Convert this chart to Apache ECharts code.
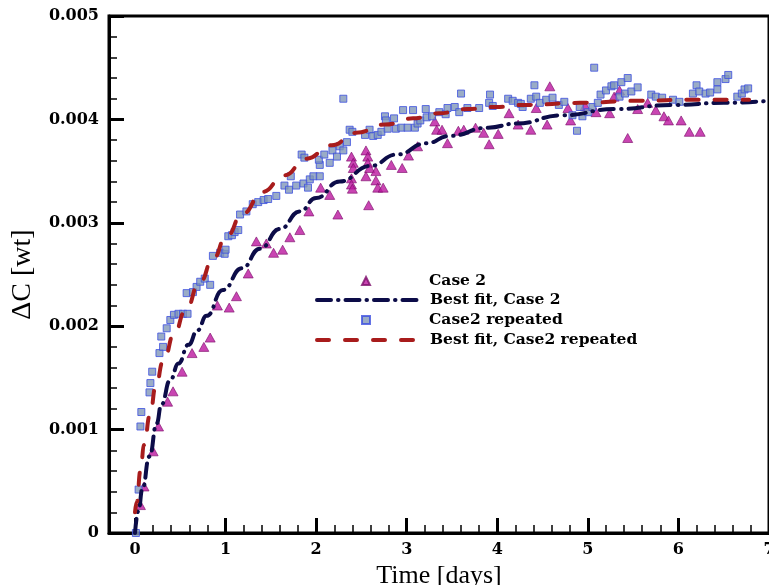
<!DOCTYPE html>
<html>
<head>
<meta charset="utf-8">
<title>Delta C vs time</title>
<script src="https://cdn.jsdelivr.net/npm/echarts@6/dist/echarts.min.js"></script>
<style>
  html, body { margin: 0; padding: 0; background: #fff; }
  #main { width: 769px; height: 585px; }
</style>
</head>
<body>
<div id="main"></div>
<script>
// values: [time (days), delta C (wt)]
const case2Points = [
  [0.06, 0.00027], [0.10, 0.00045], [0.20, 0.00079], [0.26, 0.00103], [0.36, 0.00127],
  [0.42, 0.00137], [0.52, 0.00156], [0.63, 0.00174], [0.76, 0.00180], [0.83, 0.00189],
  [0.91, 0.00220], [1.04, 0.00218], [1.12, 0.00229], [1.25, 0.00251], [1.34, 0.00282],
  [1.45, 0.00280], [1.53, 0.00271], [1.63, 0.00274], [1.71, 0.00286], [1.82, 0.00293],
  [1.92, 0.00311], [2.05, 0.00334], [2.15, 0.00327], [2.24, 0.00308], [2.39, 0.00364],
  [2.41, 0.00358], [2.41, 0.00353], [2.39, 0.00343], [2.39, 0.00337], [2.40, 0.00333],
  [2.55, 0.00370], [2.57, 0.00364], [2.57, 0.00358], [2.59, 0.00353], [2.55, 0.00345],
  [2.66, 0.00350], [2.66, 0.00341], [2.68, 0.00334], [2.74, 0.00334], [2.58, 0.00317],
  [2.83, 0.00356], [2.95, 0.00353], [3.02, 0.00365], [3.12, 0.00374], [3.31, 0.00398],
  [3.33, 0.00390], [3.39, 0.00390], [3.45, 0.00377], [3.57, 0.00389], [3.63, 0.00390],
  [3.76, 0.00392], [3.85, 0.00387], [3.91, 0.00376], [4.01, 0.00386], [4.13, 0.00406],
  [4.23, 0.00395], [4.37, 0.00390], [4.43, 0.00411], [4.55, 0.00395], [4.58, 0.00432],
  [4.78, 0.00411], [4.81, 0.00399], [4.97, 0.00413], [5.09, 0.00407], [5.24, 0.00406],
  [5.29, 0.00422], [5.35, 0.00428], [5.44, 0.00382], [5.55, 0.00410], [5.66, 0.00416],
  [5.75, 0.00409], [5.84, 0.00403], [5.89, 0.00399], [6.03, 0.00399], [6.12, 0.00388],
  [6.24, 0.00388]
]

const case2RepeatedPoints = [
  [0.01, 0.00000], [0.04, 0.00042], [0.06, 0.00103], [0.07, 0.00117], [0.16, 0.00136],
  [0.17, 0.00145], [0.19, 0.00156], [0.27, 0.00174], [0.31, 0.00180], [0.29, 0.00190],
  [0.35, 0.00198], [0.39, 0.00206], [0.43, 0.00211], [0.48, 0.00212], [0.53, 0.00212],
  [0.58, 0.00212], [0.57, 0.00232], [0.64, 0.00233], [0.68, 0.00238], [0.72, 0.00243],
  [0.77, 0.00246], [0.83, 0.00240], [0.86, 0.00268], [0.94, 0.00271], [0.99, 0.00270],
  [1.00, 0.00274], [1.03, 0.00287], [1.07, 0.00288], [1.10, 0.00291], [1.14, 0.00293],
  [1.16, 0.00308], [1.23, 0.00311], [1.30, 0.00318], [1.36, 0.00320], [1.42, 0.00322],
  [1.47, 0.00323], [1.56, 0.00326], [1.65, 0.00336], [1.70, 0.00332], [1.72, 0.00345],
  [1.78, 0.00336], [1.84, 0.00366], [1.86, 0.00338], [1.87, 0.00363], [1.91, 0.00334],
  [1.93, 0.00342], [1.97, 0.00345], [2.04, 0.00345], [2.04, 0.00356], [2.03, 0.00361],
  [2.09, 0.00366], [2.15, 0.00358], [2.18, 0.00370], [2.23, 0.00364], [2.26, 0.00374],
  [2.30, 0.00420], [2.30, 0.00370], [2.34, 0.00378], [2.37, 0.00390], [2.40, 0.00388],
  [2.54, 0.00385], [2.59, 0.00390], [2.63, 0.00384], [2.68, 0.00385], [2.72, 0.00388],
  [2.76, 0.00403], [2.77, 0.00399], [2.79, 0.00391], [2.86, 0.00401], [2.88, 0.00391],
  [2.94, 0.00392], [2.96, 0.00409], [3.01, 0.00392], [3.07, 0.00409], [3.09, 0.00392],
  [3.12, 0.00396], [3.15, 0.00399], [3.21, 0.00410], [3.22, 0.00402], [3.28, 0.00403],
  [3.36, 0.00407], [3.43, 0.00405], [3.45, 0.00411], [3.53, 0.00412], [3.58, 0.00407],
  [3.60, 0.00425], [3.67, 0.00411], [3.80, 0.00411], [3.91, 0.00416], [3.92, 0.00424],
  [3.95, 0.00413], [4.12, 0.00420], [4.17, 0.00418], [4.23, 0.00416], [4.26, 0.00415],
  [4.28, 0.00412], [4.37, 0.00420], [4.41, 0.00433], [4.43, 0.00422], [4.47, 0.00416],
  [4.54, 0.00419], [4.61, 0.00421], [4.68, 0.00414], [4.74, 0.00417], [4.83, 0.00404],
  [4.88, 0.00389], [4.91, 0.00412], [4.94, 0.00403], [5.00, 0.00407], [5.07, 0.00450],
  [5.05, 0.00412], [5.11, 0.00416], [5.14, 0.00424], [5.20, 0.00428], [5.26, 0.00432],
  [5.29, 0.00433], [5.37, 0.00436], [5.44, 0.00440], [5.35, 0.00422], [5.41, 0.00425],
  [5.48, 0.00427], [5.55, 0.00431], [5.70, 0.00424], [5.75, 0.00422], [5.82, 0.00421],
  [5.94, 0.00419], [6.01, 0.00417], [6.16, 0.00425], [6.20, 0.00433], [6.23, 0.00427],
  [6.30, 0.00425], [6.35, 0.00426], [6.43, 0.00436], [6.43, 0.00429], [6.52, 0.00439],
  [6.55, 0.00443], [6.65, 0.00422], [6.70, 0.00425], [6.73, 0.00429], [6.77, 0.00430]
]

// fitted curves
const fitCase2 = [
  [0, 0], [0.04, 0.00022], [0.08, 0.00042], [0.16, 0.00074], [0.24, 0.00106],
  [0.29, 0.00124], [0.39, 0.00148], [0.48, 0.00164], [0.59, 0.00182], [0.69, 0.00196],
  [0.79, 0.00210], [0.97, 0.00235], [1.18, 0.00256], [1.38, 0.00275], [1.60, 0.00294],
  [1.82, 0.00311], [2.00, 0.00324], [2.26, 0.00340], [2.60, 0.00355], [2.89, 0.00366],
  [3.22, 0.00377], [3.47, 0.00384], [3.90, 0.00392], [4.21, 0.00396], [4.72, 0.00404],
  [5.30, 0.00410], [5.94, 0.00414], [6.50, 0.00416], [7.00, 0.00418]
]

const fitCase2Repeated = [
  [0, 0.00020], [0.02, 0.00030], [0.06, 0.00060], [0.10, 0.00085], [0.165, 0.00114],
  [0.23, 0.00142], [0.31, 0.00166], [0.44, 0.00194], [0.55, 0.00214], [0.72, 0.00243],
  [0.86, 0.00265], [1.01, 0.00287], [1.19, 0.00309], [1.41, 0.00330], [1.65, 0.00346],
  [1.89, 0.00362], [2.17, 0.00375], [2.44, 0.00387], [2.76, 0.00395], [3.07, 0.00401],
  [3.36, 0.00406], [3.67, 0.00410], [3.99, 0.00412], [4.30, 0.00414], [4.91, 0.00416],
  [5.57, 0.00418], [6.16, 0.00419], [6.78, 0.00419]
]

const seriesNames = ['Case 2', 'Best fit, Case 2', 'Case2 repeated', 'Best fit, Case2 repeated']
// day ticks with labels
const dayTicks = [0, 1, 2, 3, 4, 5, 6, 7]
// legend rows, centre y of each row in px
const legendRows = [281, 300, 320, 340]

// 4 minor ticks between every two days
const minorDayTicks = []
dayTicks.slice(0, -1).forEach(d => {
  for (let k = 1; k < 5; k++) {
    minorDayTicks.push(Math.round((d + k * 0.2) * 10) / 10)
  }
})

const serif = 'Liberation Serif'
const boldSerif = 'DejaVu Serif'
// x axis starts a bit left of 0 (0 sits at 135px, the frame at 109px)
const xMin = -26 / (634 / 7)

// one legend per row so the marker icons keep their own size
function makeLegend(index, isLine) {
  return {
    orient: 'vertical',
    left: isLine ? 315 : 361,
    top: legendRows[index] - 8.5,
    padding: 0,
    itemWidth: isLine ? 100 : 8,
    itemHeight: 8,
    selectedMode: false,
    lineStyle: { width: 4 },
    itemStyle: isLine ? { opacity: 0 } : {},
    textStyle: {
      fontFamily: boldSerif,
      fontWeight: 'bold',
      fontSize: 15.5,
      lineHeight: 17,
      color: '#000',
      padding: [0, 0, 0, isLine ? 8 : 54]
    },
    data: [seriesNames[index]]
  }
}

var myChart = echarts.init(document.getElementById('main'))

var option = {
  animation: false,
  grid: {
    left: 109,
    right: 0,
    top: 16,
    bottom: 52,
    outerBoundsMode: 'none',
    show: true,
    borderColor: '#000',
    borderWidth: 3
  },
  legend: [
    makeLegend(0, false),
    makeLegend(1, true),
    makeLegend(2, false),
    makeLegend(3, true)
  ],
  xAxis: [
    {
      type: 'value',
      position: 'bottom',
      min: xMin,
      max: 7,
      name: 'Time [days]',
      nameLocation: 'middle',
      nameGap: 25,
      nameTextStyle: { fontFamily: serif, fontSize: 26, color: '#000' },
      axisLine: { onZero: false, lineStyle: { color: '#000', width: 3 } },
      axisTick: { show: true, inside: true, length: 15, customValues: dayTicks, lineStyle: { color: '#000', width: 3 } },
      axisLabel: { customValues: dayTicks, fontFamily: boldSerif, fontWeight: 'bold', fontSize: 16, color: '#000', margin: 9 },
      splitLine: { show: false }
    },
    {
      // second bottom axis only for the small ticks
      type: 'value',
      position: 'bottom',
      min: xMin,
      max: 7,
      axisLine: { show: false, onZero: false },
      axisTick: { show: true, inside: true, length: 8, customValues: minorDayTicks, lineStyle: { color: '#000', width: 1.5 } },
      axisLabel: { show: false },
      splitLine: { show: false }
    }
  ],
  yAxis: {
    type: 'value',
    min: 0,
    max: 0.005,
    interval: 0.001,
    name: 'ΔC [wt]',
    nameLocation: 'middle',
    nameGap: 72,
    nameTextStyle: { fontFamily: serif, fontSize: 28, color: '#000' },
    axisLine: { show: true, onZero: false, lineStyle: { color: '#000', width: 3 } },
    axisTick: { show: true, inside: true, length: 15, lineStyle: { color: '#000', width: 3 } },
    minorTick: { show: true, splitNumber: 5, length: 8, lineStyle: { color: '#000', width: 1.5 } },
    axisLabel: {
      fontFamily: boldSerif,
      fontWeight: 'bold',
      fontSize: 16,
      color: '#000',
      margin: 10,
      formatter: function (v) {
        return v === 0 ? '0' : v.toFixed(3)
      }
    },
    splitLine: { show: false }
  },
  series: [
    {
      name: seriesNames[0],
      type: 'scatter',
      symbol: 'triangle',
      symbolSize: [10, 9],
      itemStyle: { color: '#bb169f', borderColor: '#7d0f6c', borderWidth: 0.8 },
      data: case2Points,
      z: 2
    },
    {
      name: seriesNames[1],
      type: 'line',
      smooth: true,
      smoothMonotone: 'x',
      symbol: 'none',
      itemStyle: { color: '#0c0c48' },
      lineStyle: { color: '#0c0c48', width: 4, type: [14, 7, 0.5, 7], cap: 'round' },
      data: fitCase2,
      z: 4
    },
    {
      name: seriesNames[2],
      type: 'scatter',
      symbol: 'rect',
      symbolSize: 7,
      itemStyle: { color: '#8197b8', borderColor: '#3c4fe0', borderWidth: 1 },
      data: case2RepeatedPoints,
      z: 3
    },
    {
      name: seriesNames[3],
      type: 'line',
      smooth: true,
      smoothMonotone: 'x',
      symbol: 'none',
      itemStyle: { color: '#a81c1c' },
      lineStyle: { color: '#a81c1c', width: 4, type: [12, 16], cap: 'round' },
      data: fitCase2Repeated,
      z: 4
    }
  ]
}

myChart.setOption(option)
</script>
</body>
</html>
